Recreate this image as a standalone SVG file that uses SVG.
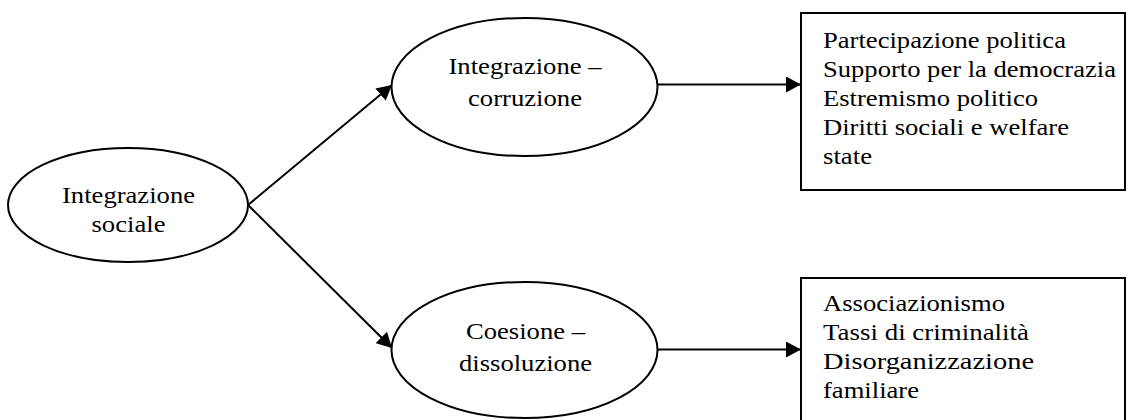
<svg xmlns="http://www.w3.org/2000/svg" width="1129" height="420" viewBox="0 0 1129 420">
  <style>
    .shape { fill: #ffffff; stroke: #000000; stroke-width: 2; }
    .edge { fill: none; stroke: #000000; stroke-width: 2; }
    .label { font-family: 'Liberation Serif', 'Times New Roman', Times, serif; font-size: 22.5px; fill: #000000; }
    .mid { text-anchor: middle; }
  </style>
  <defs>
    <marker id="arrow" markerUnits="userSpaceOnUse" markerWidth="16" markerHeight="16" refX="15" refY="8" orient="auto">
      <path d="M0,0 L15,8 L0,16 z" fill="#000000"/>
    </marker>
  </defs>

  <rect width="1129" height="420" fill="#ffffff"/>

  <!-- connectors -->
  <g id="connectors">
    <line class="edge" x1="248" y1="205" x2="392" y2="85" marker-end="url(#arrow)"/>
    <line class="edge" x1="248" y1="205" x2="392" y2="348" marker-end="url(#arrow)"/>
    <line class="edge" x1="657" y1="84.5" x2="801" y2="84.5" marker-end="url(#arrow)"/>
    <line class="edge" x1="657" y1="349.5" x2="801" y2="349.5" marker-end="url(#arrow)"/>
  </g>

  <!-- source concept -->
  <g id="node-integrazione-sociale">
    <ellipse class="shape" cx="128" cy="205" rx="120" ry="57"/>
    <text class="label mid" x="128.5" y="203" textLength="133" lengthAdjust="spacingAndGlyphs">Integrazione</text>
    <text class="label mid" x="128.5" y="232" textLength="74" lengthAdjust="spacingAndGlyphs">sociale</text>
  </g>

  <!-- dimension: integration / corruption -->
  <g id="node-integrazione-corruzione">
    <ellipse class="shape" cx="524.5" cy="87" rx="133" ry="69"/>
    <text class="label mid" x="525" y="74" textLength="153" lengthAdjust="spacingAndGlyphs">Integrazione –</text>
    <text class="label mid" x="525" y="106" textLength="114" lengthAdjust="spacingAndGlyphs">corruzione</text>
  </g>

  <!-- dimension: cohesion / dissolution -->
  <g id="node-coesione-dissoluzione">
    <ellipse class="shape" cx="524.5" cy="350" rx="133" ry="68"/>
    <text class="label mid" x="525.5" y="339" textLength="119" lengthAdjust="spacingAndGlyphs">Coesione –</text>
    <text class="label mid" x="525.5" y="371" textLength="133" lengthAdjust="spacingAndGlyphs">dissoluzione</text>
  </g>

  <!-- political outcomes -->
  <g id="node-esiti-politici">
    <rect class="shape" x="801" y="13" width="324" height="177"/>
    <text class="label" x="823" y="48" textLength="243" lengthAdjust="spacingAndGlyphs">Partecipazione politica</text>
    <text class="label" x="823" y="77" textLength="293" lengthAdjust="spacingAndGlyphs">Supporto per la democrazia</text>
    <text class="label" x="823" y="106" textLength="215" lengthAdjust="spacingAndGlyphs">Estremismo politico</text>
    <text class="label" x="823" y="135" textLength="246" lengthAdjust="spacingAndGlyphs">Diritti sociali e welfare</text>
    <text class="label" x="823" y="164" textLength="49" lengthAdjust="spacingAndGlyphs">state</text>
  </g>

  <!-- social outcomes -->
  <g id="node-esiti-sociali">
    <rect class="shape" x="801" y="278" width="324" height="160"/>
    <text class="label" x="823" y="311" textLength="182" lengthAdjust="spacingAndGlyphs">Associazionismo</text>
    <text class="label" x="823" y="340" textLength="206" lengthAdjust="spacingAndGlyphs">Tassi di criminalità</text>
    <text class="label" x="823" y="369" textLength="211" lengthAdjust="spacingAndGlyphs">Disorganizzazione</text>
    <text class="label" x="823" y="398" textLength="96" lengthAdjust="spacingAndGlyphs">familiare</text>
  </g>
</svg>
